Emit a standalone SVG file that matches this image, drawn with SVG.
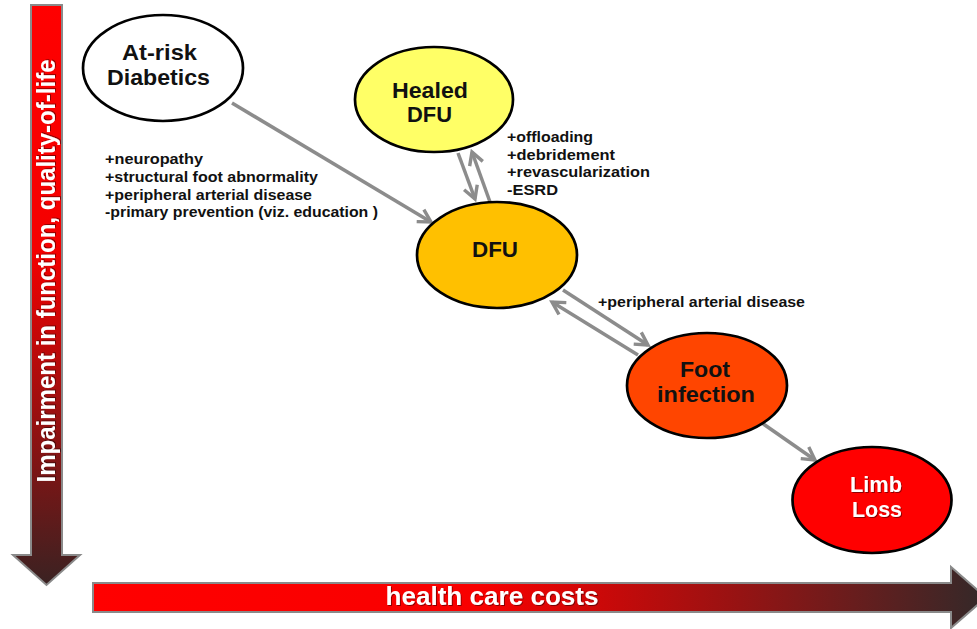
<svg xmlns="http://www.w3.org/2000/svg" width="977" height="629" viewBox="0 0 977 629">
<style>
.node{stroke:#000;stroke-width:2.7}
.nt{font-family:"Liberation Sans",Arial,sans-serif;font-weight:bold;font-size:21.5px;text-anchor:middle;fill:#111}
.wt{fill:#fff}
.lb{font-family:"Liberation Sans",Arial,sans-serif;font-weight:bold;font-size:15px;fill:#111}
.conn{stroke:#8c8c8c;stroke-width:3.5;fill:none;marker-end:url(#arr)}
.axt{font-family:"Liberation Sans Narrow","Arial Narrow","Liberation Sans",sans-serif;font-weight:bold;font-size:26px;fill:#fff;text-anchor:middle}
.ax{stroke:#8a8a8a;stroke-width:2}
</style>
<defs>
<marker id="arr" viewBox="0 0 18 18" refX="15" refY="9" markerWidth="18" markerHeight="18" markerUnits="userSpaceOnUse" orient="auto">
<path d="M2.5,2 L15,9 L2.5,16" fill="none" stroke="#8c8c8c" stroke-width="3.4" stroke-linejoin="miter"/>
</marker>
<linearGradient id="gv" gradientUnits="userSpaceOnUse" x1="0" y1="5" x2="0" y2="585">
<stop offset="0" stop-color="#ff0000"/>
<stop offset="0.42" stop-color="#f40000"/>
<stop offset="0.75" stop-color="#8c1212"/>
<stop offset="1" stop-color="#3a2222"/>
</linearGradient>
<linearGradient id="gh" gradientUnits="userSpaceOnUse" x1="93" y1="0" x2="977" y2="0">
<stop offset="0" stop-color="#ff0000"/>
<stop offset="0.44" stop-color="#f80000"/>
<stop offset="0.72" stop-color="#9a1212"/>
<stop offset="1" stop-color="#372828"/>
</linearGradient>
<filter id="sh" x="-10%" y="-10%" width="120%" height="120%">
<feDropShadow dx="1" dy="1" stdDeviation="0.6" flood-color="#000" flood-opacity="0.45"/>
</filter>
</defs>

<g id="axis-vertical">
<path class="ax" d="M31,5 H62 V555 H80 L46.5,585 L13,555 H31 Z" fill="url(#gv)"/>
<text class="axt" transform="translate(55,271) rotate(-90)" textLength="423" lengthAdjust="spacingAndGlyphs" filter="url(#sh)">Impairment in function, quality-of-life</text>
</g>

<g id="axis-horizontal">
<path class="ax" d="M93,583 H951 V567 L986,597.5 L951,628 V612 H93 Z" fill="url(#gh)"/>
<text class="axt" x="492" y="605" textLength="213" lengthAdjust="spacingAndGlyphs" filter="url(#sh)">health care costs</text>
</g>

<g id="connectors">
<path class="conn" d="M232,103 L431,222"/>
<path class="conn" d="M458,153 L475,199"/>
<path class="conn" d="M490,202 L472,152"/>
<path class="conn" d="M563,290 L648,345"/>
<path class="conn" d="M638,355 L552,302"/>
<path class="conn" d="M762,423 L815,460"/>
</g>

<g id="labels">
<text class="lb" x="105" y="164" textLength="98" lengthAdjust="spacingAndGlyphs">+neuropathy</text>
<text class="lb" x="105" y="182" textLength="213" lengthAdjust="spacingAndGlyphs">+structural foot abnormality</text>
<text class="lb" x="105" y="200" textLength="207" lengthAdjust="spacingAndGlyphs">+peripheral arterial disease</text>
<text class="lb" x="105" y="217" textLength="273" lengthAdjust="spacingAndGlyphs">-primary prevention (viz. education )</text>
<text class="lb" x="507" y="142" textLength="86" lengthAdjust="spacingAndGlyphs">+offloading</text>
<text class="lb" x="507" y="160" textLength="108" lengthAdjust="spacingAndGlyphs">+debridement</text>
<text class="lb" x="507" y="177" textLength="143" lengthAdjust="spacingAndGlyphs">+revascularization</text>
<text class="lb" x="507" y="195" textLength="51" lengthAdjust="spacingAndGlyphs">-ESRD</text>
<text class="lb" x="598" y="307" textLength="207" lengthAdjust="spacingAndGlyphs">+peripheral arterial disease</text>
</g>

<g id="node-atrisk">
<ellipse class="node" cx="163" cy="68" rx="80" ry="53" fill="#fff"/>
<text class="nt" x="159.5" y="60" textLength="75" lengthAdjust="spacingAndGlyphs">At-risk</text>
<text class="nt" x="158.5" y="85" textLength="103" lengthAdjust="spacingAndGlyphs">Diabetics</text>
</g>

<g id="node-healed">
<ellipse class="node" cx="434" cy="99.5" rx="79" ry="52.5" fill="#ffff66"/>
<text class="nt" x="430" y="98" textLength="76" lengthAdjust="spacingAndGlyphs">Healed</text>
<text class="nt" x="429.5" y="122" textLength="45" lengthAdjust="spacingAndGlyphs">DFU</text>
</g>

<g id="node-dfu">
<ellipse class="node" cx="497" cy="255" rx="80" ry="53" fill="#ffc000"/>
<text class="nt" x="495" y="257" textLength="46" lengthAdjust="spacingAndGlyphs">DFU</text>
</g>

<g id="node-infection">
<ellipse class="node" cx="707" cy="385.5" rx="80" ry="52.5" fill="#ff4500"/>
<text class="nt" x="705" y="377" textLength="50" lengthAdjust="spacingAndGlyphs">Foot</text>
<text class="nt" x="706" y="402" textLength="98" lengthAdjust="spacingAndGlyphs">infection</text>
</g>

<g id="node-limbloss">
<ellipse class="node" cx="872" cy="500" rx="79.5" ry="53" fill="#ff0000"/>
<text class="nt wt" x="876" y="492" textLength="52" lengthAdjust="spacingAndGlyphs" filter="url(#sh)">Limb</text>
<text class="nt wt" x="877" y="517" textLength="50" lengthAdjust="spacingAndGlyphs" filter="url(#sh)">Loss</text>
</g>
</svg>
